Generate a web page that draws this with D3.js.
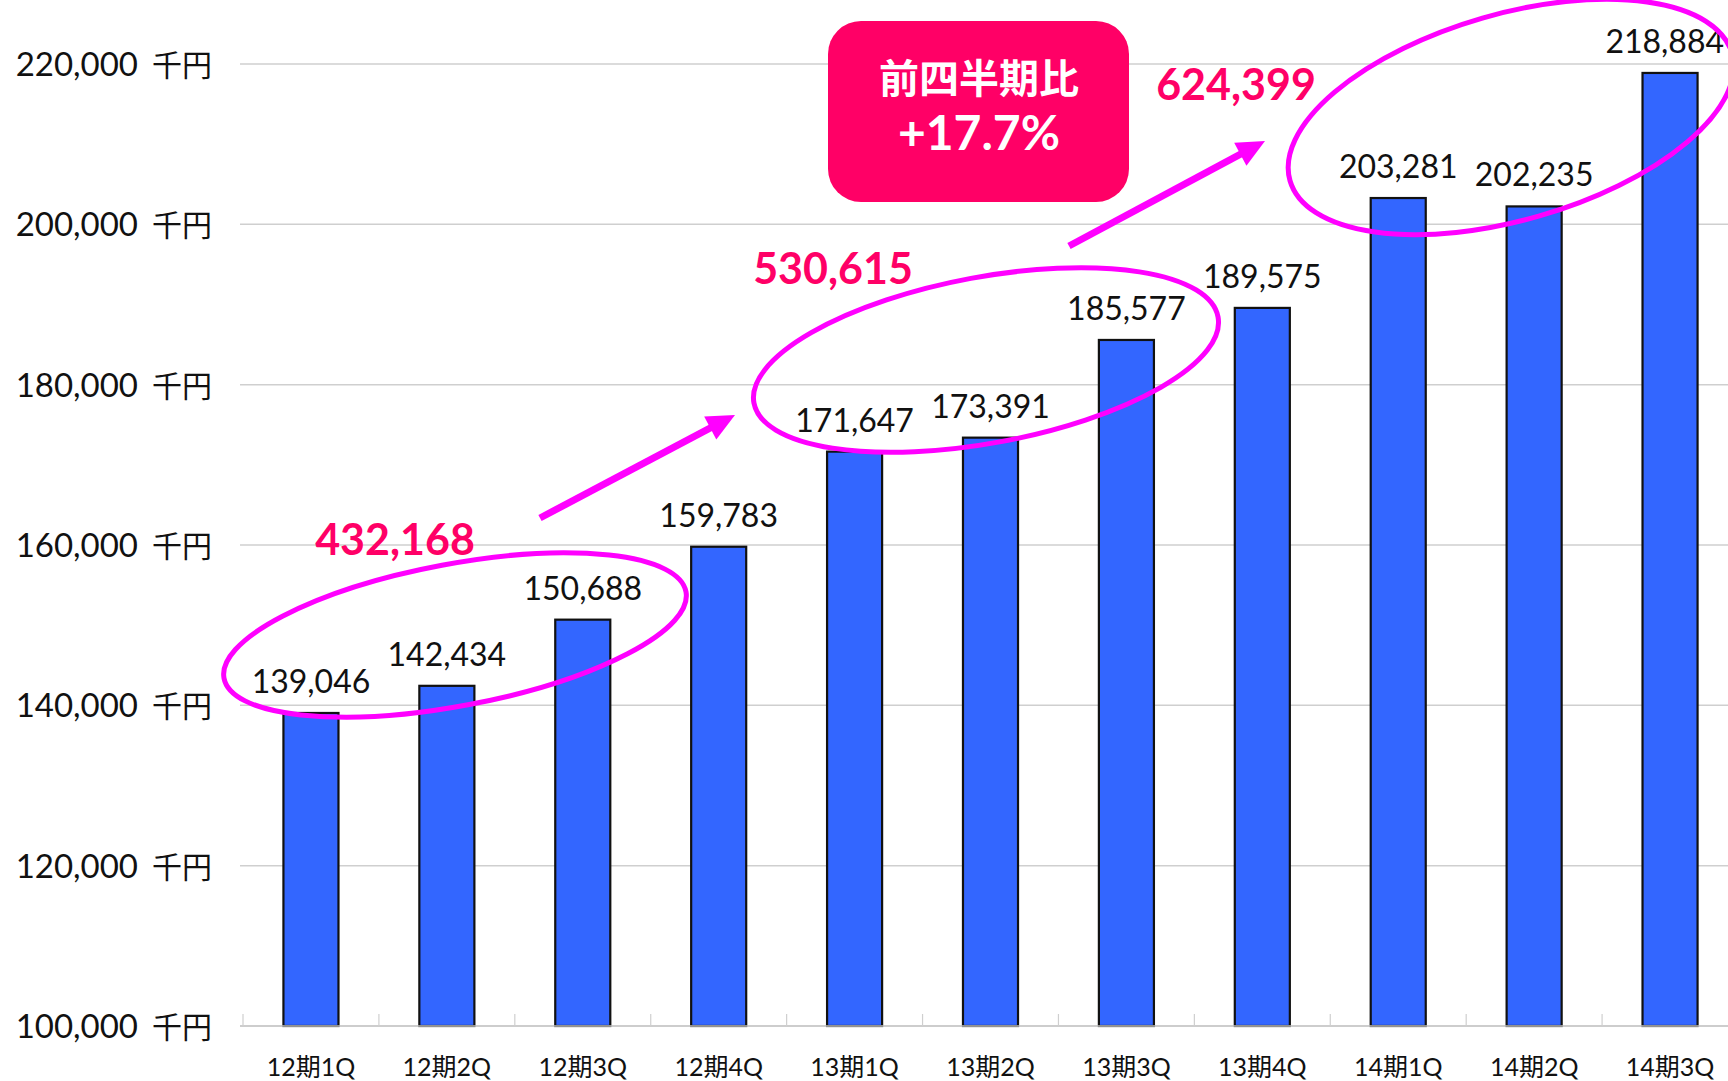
<!DOCTYPE html>
<html>
<head>
<meta charset="utf-8">
<script src="https://cdn.jsdelivr.net/npm/d3@7"></script>
<style>
  body { margin: 0; background: #fff; overflow: hidden; }
  svg { display: block; }
</style>
</head>
<body>
<div id="chart"></div>
<script>
// quarterly sales (千円)
const categories = ["12期1Q", "12期2Q", "12期3Q", "12期4Q", "13期1Q", "13期2Q", "13期3Q", "13期4Q", "14期1Q", "14期2Q", "14期3Q"];
const sales = [139046, 142434, 150688, 159783, 171647, 173391, 185577, 189575, 203281, 202235, 218884];
const yTicks = [100000, 120000, 140000, 160000, 180000, 200000, 220000];
// totals of the first three quarters of each term, as printed on the slide
const groupTotals = [432168, 530615, 624399];
const growthLabel = "+17.7%";

const width = 1728, height = 1081;
const numFont = "Lato, 'Noto Sans CJK JP', sans-serif";

const svg = d3.select("#chart")
    .append("svg")
    .attr("width", width)
    .attr("height", height);

const x = d3.scaleBand()
    .domain(categories)
    .range([243, 1738])
    .padding(0);

const y = d3.scaleLinear()
    .domain([100000, 220000])
    .range([1026, 64]);

const barW = x.bandwidth() * 0.405;

// gridlines
svg.append("g")
    .selectAll("line")
    .data(yTicks.filter(d => d > 100000))
    .join("line")
    .attr("x1", 240)
    .attr("x2", width)
    .attr("y1", d => y(d))
    .attr("y2", d => y(d))
    .attr("stroke", "#cfcfcf")
    .attr("stroke-width", 1.5);

// y axis labels
const yLab = svg.append("g")
    .selectAll("text")
    .data(yTicks)
    .join("text")
    .attr("x", 212)
    .attr("y", d => y(d) + 12)
    .attr("text-anchor", "end")
    .style("font-family", numFont)
    .style("font-size", "33px")
    .style("fill", "#111");
yLab.append("tspan").text(d => d3.format(",")(d));
yLab.append("tspan")
    .attr("dx", 14)
    .style("font-family", "'Noto Sans CJK JP', sans-serif")
    .style("font-size", "30px")
    .text("千円");

// bars
svg.append("g")
    .selectAll("rect")
    .data(sales)
    .join("rect")
    .attr("x", (d, i) => x(categories[i]) + (x.bandwidth() - barW) / 2)
    .attr("y", d => y(d))
    .attr("width", barW)
    .attr("height", d => y(100000) - y(d))
    .attr("fill", "#3366ff")
    .attr("stroke", "#111")
    .attr("stroke-width", 2.2);

// baseline + category ticks
svg.append("line")
    .attr("x1", 240).attr("x2", width)
    .attr("y1", y(100000)).attr("y2", y(100000))
    .attr("stroke", "#bdbdbd")
    .attr("stroke-width", 1.5);

svg.append("g")
    .selectAll("line")
    .data(categories)
    .join("line")
    .attr("x1", d => x(d))
    .attr("x2", d => x(d))
    .attr("y1", y(100000))
    .attr("y2", y(100000) - 12)
    .attr("stroke", "#cfcfcf")
    .attr("stroke-width", 1.2);

// category labels
svg.append("g")
    .selectAll("text")
    .data(categories)
    .join("text")
    .attr("x", d => x(d) + x.bandwidth() / 2)
    .attr("y", 1076)
    .attr("text-anchor", "middle")
    .style("font-family", numFont)
    .style("font-size", "25px")
    .style("fill", "#111")
    .text(d => d);

// value labels (kept inside the right edge)
svg.append("g")
    .selectAll("text")
    .data(sales)
    .join("text")
    .attr("x", (d, i) => x(categories[i]) + x.bandwidth() / 2)
    .attr("y", d => y(d) - 20)
    .attr("text-anchor", "middle")
    .style("font-family", numFont)
    .style("font-size", "32px")
    .style("fill", "#111")
    .text(d => d3.format(",")(d))
    .each(function () {
        const t = d3.select(this);
        const half = this.getComputedTextLength() / 2;
        const cx = +t.attr("x");
        if (cx + half > width - 4) t.attr("x", width - 4 - half);
    });

// --- annotations ---
const magenta = "#ff00ff";
const hot = "#ff0066";

// ellipses around each group
const ellipses = [
    { cx: 455, cy: 635, rx: 235, ry: 71, rot: -10.6 },
    { cx: 986, cy: 360, rx: 236, ry: 83, rot: -10.5 },
    { cx: 1511, cy: 117, rx: 230, ry: 103, rot: -16.1 }
];
svg.append("g")
    .selectAll("ellipse")
    .data(ellipses)
    .join("ellipse")
    .attr("transform", d => `translate(${d.cx},${d.cy}) rotate(${d.rot})`)
    .attr("rx", d => d.rx)
    .attr("ry", d => d.ry)
    .attr("fill", "none")
    .attr("stroke", magenta)
    .attr("stroke-width", 5);

// arrows
const arrows = [
    { x1: 540, y1: 518, x2: 735, y2: 415 },
    { x1: 1069, y1: 246, x2: 1265, y2: 141 }
];
arrows.forEach(a => {
    const ang = Math.atan2(a.y2 - a.y1, a.x2 - a.x1);
    const hl = 28, hw = 13;
    const bx = a.x2 - hl * Math.cos(ang), by = a.y2 - hl * Math.sin(ang);
    svg.append("line")
        .attr("x1", a.x1).attr("y1", a.y1)
        .attr("x2", bx + 4 * Math.cos(ang)).attr("y2", by + 4 * Math.sin(ang))
        .attr("stroke", magenta)
        .attr("stroke-width", 7);
    const px = -Math.sin(ang), py = Math.cos(ang);
    svg.append("path")
        .attr("d", `M${a.x2},${a.y2}L${bx + hw * px},${by + hw * py}L${bx - hw * px},${by - hw * py}Z`)
        .attr("fill", magenta);
});

// group totals
const totalPos = [
    { x: 395, y: 555 },
    { x: 833, y: 284 },
    { x: 1236, y: 100 }
];
svg.append("g")
    .selectAll("text")
    .data(groupTotals)
    .join("text")
    .attr("x", (d, i) => totalPos[i].x)
    .attr("y", (d, i) => totalPos[i].y)
    .attr("text-anchor", "middle")
    .style("font-family", numFont)
    .style("font-weight", "bold")
    .style("font-size", "43px")
    .style("fill", hot)
    .text(d => d3.format(",")(d));

// callout box
svg.append("rect")
    .attr("x", 828).attr("y", 21)
    .attr("width", 301).attr("height", 181)
    .attr("rx", 33)
    .attr("fill", hot);
svg.append("text")
    .attr("x", 979).attr("y", 93)
    .attr("text-anchor", "middle")
    .style("font-family", "'Noto Sans CJK JP', sans-serif")
    .style("font-weight", "bold")
    .style("font-size", "40px")
    .style("fill", "#fff")
    .text("前四半期比");
svg.append("text")
    .attr("x", 979).attr("y", 150)
    .attr("text-anchor", "middle")
    .style("font-family", numFont)
    .style("font-weight", "bold")
    .style("font-size", "48px")
    .style("fill", "#fff")
    .text(growthLabel);
</script>
</body>
</html>
